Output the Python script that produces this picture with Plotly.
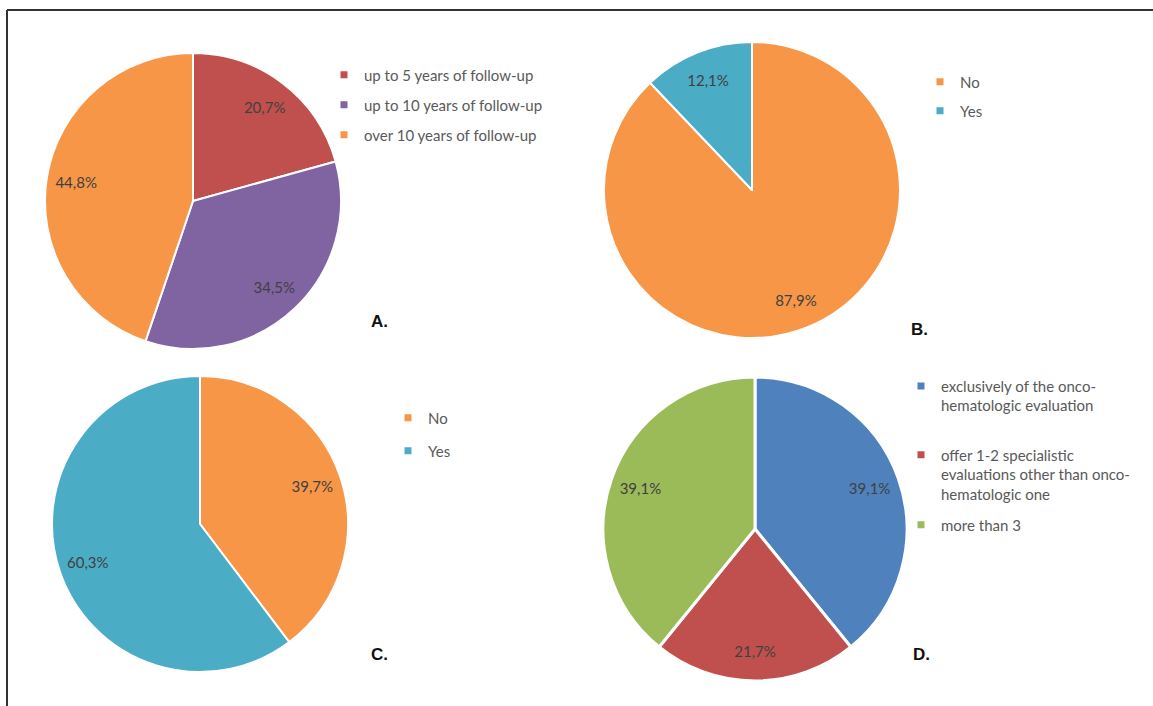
import plotly.graph_objects as go

W, H = 1153, 706

# ---- data ----
labels_a = ["up to 5 years of follow-up", "up to 10 years of follow-up", "over 10 years of follow-up"]
values_a = [20.7, 34.5, 44.8]
labels_b = ["No", "Yes"]
values_b = [87.9, 12.1]
labels_c = ["No", "Yes"]
values_c = [39.7, 60.3]
labels_d = ["exclusively of the onco-<br>hematologic evaluation",
            "offer 1-2 specialistic<br>evaluations other than onco-<br>hematologic one",
            "more than 3"]
values_d = [39.1, 21.7, 39.1]
panel_letters = ["A.", "B.", "C.", "D."]

# ---- styles ----
ORANGE, TEAL, RED, PURPLE, BLUE, GREEN = "#F79646", "#4BACC6", "#C0504D", "#8064A2", "#4F81BD", "#9BBB59"
colors_a = [RED, PURPLE, ORANGE]
colors_b = [ORANGE, TEAL]
colors_c = [ORANGE, TEAL]
colors_d = [BLUE, RED, GREEN]

FONT = "Lato"
LEG_SIZE = 15

def fmt(v):
    return f"{v:.1f}%".replace(".", ",")

def dom(cx, cy, r):
    return dict(x=[(cx - r) / W, (cx + r) / W], y=[1 - (cy + r) / H, 1 - (cy - r) / H])

panels = [
    (labels_a, values_a, colors_a, dom(193, 201, 148), 2),
    (labels_b, values_b, colors_b, dom(752, 190, 148), 2),
    (labels_c, values_c, colors_c, dom(200, 524, 148), 2),
    (labels_d, values_d, colors_d, dom(755, 529, 152), 3),
]

fig = go.Figure()
for labs, vals, cols, d, lw in panels:
    # filled pie
    fig.add_trace(go.Pie(
        labels=labs, values=vals, textinfo="none",
        marker=dict(colors=cols, line=dict(color="white", width=lw)),
        sort=False, direction="clockwise", rotation=0,
        domain=d, showlegend=False, hoverinfo="label+percent",
    ))
    # transparent ring carrying the data labels near the rim
    fig.add_trace(go.Pie(
        labels=labs, values=vals, text=[fmt(v) for v in vals],
        texttemplate="%{text}", textposition="inside",
        insidetextorientation="horizontal", hole=0.6,
        textfont=dict(family=FONT, size=15, color="#404040"),
        marker=dict(colors=["rgba(0,0,0,0)"] * len(vals), line=dict(width=0)),
        sort=False, direction="clockwise", rotation=0,
        domain=d, showlegend=False, hoverinfo="skip",
    ))

# legend entries: each one in its own legend so spacing can match
legend_pos = [
    [(364, 75), (364, 105), (364, 135)],
    [(960, 82), (960, 111)],
    [(428, 418), (428, 451)],
    [(941, 386), (941, 455), (941, 525)],
]
all_labels = [labels_a, labels_b, labels_c, labels_d]
all_colors = [colors_a, colors_b, colors_c, colors_d]
LINE_H = LEG_SIZE * 1.3
layout_legends = {}
k = 0
for labs, cols, poss in zip(all_labels, all_colors, legend_pos):
    for lab, col, (tx, ty) in zip(labs, cols, poss):
        k += 1
        name = "legend" if k == 1 else f"legend{k}"
        nlines = lab.count("<br>") + 1
        cy = ty + (nlines - 1) * LINE_H / 2
        fig.add_trace(go.Scatter(
            x=[None], y=[None], mode="markers", name=lab,
            marker=dict(symbol="square", size=7, color=col),
            legend=name, showlegend=True, hoverinfo="skip",
        ))
        layout_legends[name] = dict(
            x=(tx - 40) / W, y=1 - cy / H, xanchor="left", yanchor="middle",
            bgcolor="rgba(0,0,0,0)", borderwidth=0, valign="top",
            font=dict(family=FONT, size=LEG_SIZE, color="#595959"),
        )

letter_pos = [(379, 322), (919, 330), (379, 654), (921, 654)]
annotations = [
    dict(text=f"<b>{t}</b>", x=px / W, y=1 - py / H, xref="paper", yref="paper",
         showarrow=False, xanchor="center", yanchor="middle",
         font=dict(family="Liberation Sans", size=17, color="#111111"))
    for t, (px, py) in zip(panel_letters, letter_pos)
]

shapes = [
    dict(type="line", xref="paper", yref="paper", x0=7 / W, x1=1, y0=1 - 10 / H, y1=1 - 10 / H,
         line=dict(color="#333333", width=2)),
    dict(type="line", xref="paper", yref="paper", x0=7 / W, x1=7 / W, y0=0, y1=1 - 10 / H,
         line=dict(color="#333333", width=2)),
]

fig.update_layout(
    width=W, height=H, margin=dict(l=0, r=0, t=0, b=0),
    paper_bgcolor="white", plot_bgcolor="white",
    xaxis=dict(visible=False), yaxis=dict(visible=False),
    annotations=annotations, shapes=shapes,
    **layout_legends,
)

fig.write_html("out.html")
